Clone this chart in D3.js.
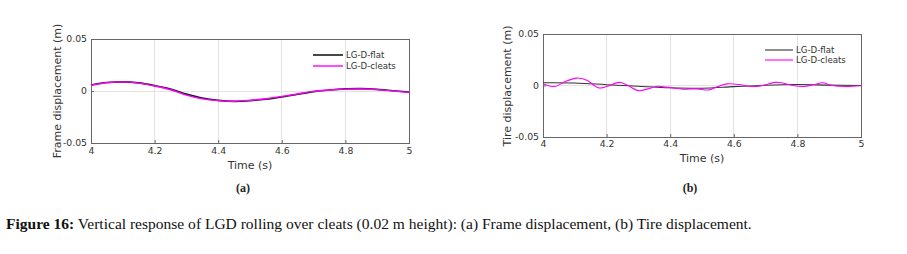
<!DOCTYPE html>
<html><head><meta charset="utf-8">
<script src="https://cdn.jsdelivr.net/npm/d3@7"></script>
<style>body{margin:0;background:#fff}svg{display:block}</style>
</head><body>
<svg id="c" width="907" height="254"></svg>
<script>
// ---- data ----
const xTicks = [4, 4.2, 4.4, 4.6, 4.8, 5];
const yTicks = [-0.05, 0, 0.05];
const yTickLabels = ["-0.05", "0", "0.05"];
const seriesNames = ["LG-D-flat", "LG-D-cleats"];

const frameTime   = [4, 4.05, 4.1, 4.15, 4.2, 4.25, 4.3, 4.35, 4.4, 4.45, 4.5, 4.55, 4.6, 4.65, 4.7, 4.75, 4.8, 4.85, 4.9, 4.95, 5];
const frameFlat   = [0.0058, 0.0081, 0.0088, 0.0078, 0.0052, 0.0019, -0.0030, -0.0068, -0.0090, -0.0100, -0.0094, -0.0080, -0.0058, -0.0032, -0.0006, 0.0010, 0.0020, 0.0023, 0.0016, 0.0003, -0.0010];
const frameCleats = [0.0055, 0.0080, 0.0088, 0.0076, 0.0048, 0.0012, -0.0040, -0.0076, -0.0093, -0.0098, -0.0089, -0.0074, -0.0052, -0.0028, -0.0004, 0.0010, 0.0018, 0.0019, 0.0013, 0.0000, -0.0014];

const tireFlatTime = [4, 4.1, 4.2, 4.3, 4.4, 4.5, 4.6, 4.7, 4.8, 4.9, 5];
const tireFlat     = [0.0026, 0.0024, 0.0008, -0.0008, -0.0022, -0.0026, -0.0011, 0.0003, 0.0009, 0.0004, 0.0000];
const tireCleatsTime = [4, 4.038, 4.064, 4.106, 4.138, 4.175, 4.2, 4.24, 4.263, 4.3, 4.33, 4.36, 4.39, 4.44, 4.485, 4.52, 4.55, 4.58, 4.615, 4.66, 4.69, 4.73, 4.75, 4.79, 4.82, 4.85, 4.88, 4.905, 4.95, 5];
const tireCleats     = [0.0018, -0.0010, 0.0030, 0.0072, 0.0050, -0.0023, -0.0010, 0.0030, 0.0007, -0.0050, -0.0033, -0.0007, -0.0016, -0.0036, -0.0033, -0.0043, -0.0010, 0.0016, 0.0010, -0.0010, 0.0000, 0.0030, 0.0026, -0.0003, -0.0010, 0.0007, 0.0026, 0.0003, -0.0010, -0.0003];

const svg = d3.select("#c");
const axFont = "DejaVu Sans, sans-serif";

function panel(cfg) {
  const x = d3.scaleLinear().domain([4, 5]).range([cfg.x0, cfg.x1]);
  const y = d3.scaleLinear().domain([-0.05, 0.05]).range([cfg.y0, cfg.y1]);
  const g = svg.append("g");
  // grid
  g.selectAll(".gx").data(xTicks.slice(1, -1)).join("line")
    .attr("x1", d => x(d)).attr("x2", d => x(d)).attr("y1", cfg.y0).attr("y2", cfg.y1)
    .attr("stroke", "#e3e3e3").attr("stroke-width", 1).attr("shape-rendering", "crispEdges");
  g.append("line").attr("x1", cfg.x0).attr("x2", cfg.x1).attr("y1", y(0)).attr("y2", y(0))
    .attr("stroke", "#e3e3e3").attr("stroke-width", 1).attr("shape-rendering", "crispEdges");
  // axes (ticks inward)
  const xa = g.append("g").attr("transform", `translate(0,${cfg.y0})`)
    .call(d3.axisBottom(x).tickValues(xTicks).tickSize(-3).tickPadding(cfg.xPad).tickFormat(d3.format("")));
  const ya = g.append("g").attr("transform", `translate(${cfg.x0},0)`)
    .call(d3.axisLeft(y).tickValues(yTicks).tickSize(-3).tickPadding(4).tickFormat((d, i) => yTickLabels[i]));
  [xa, ya].forEach(a => {
    a.select(".domain").remove();
    a.selectAll("line").attr("stroke", "#666");
    a.selectAll("text").attr("fill", "#333").style("font-family", axFont).style("font-size", "9.3px");
  });
  // frame box
  g.append("rect").attr("x", cfg.x0).attr("y", cfg.y1).attr("width", cfg.x1 - cfg.x0).attr("height", cfg.y0 - cfg.y1)
    .attr("fill", "none").attr("stroke", "#666").attr("stroke-width", 1).attr("shape-rendering", "crispEdges");
  // lines
  const line = d3.line().x(d => x(d[0])).y(d => y(d[1])).curve(d3.curveCatmullRom.alpha(0.5));
  cfg.series.forEach(s => {
    g.append("path").datum(s.t.map((t, i) => [t, s.v[i]])).attr("d", line)
      .attr("fill", "none").attr("stroke", s.color).attr("stroke-width", s.w);
  });
  // legend
  cfg.series.forEach((s, i) => {
    const ly = cfg.legY + i * cfg.legDy;
    g.append("line").attr("x1", cfg.legX).attr("x2", cfg.legX + cfg.legW).attr("y1", ly).attr("y2", ly)
      .attr("stroke", s.color).attr("stroke-width", s.w);
    g.append("text").attr("x", cfg.legX + cfg.legW + 3).attr("y", ly).attr("dy", "0.35em")
      .style("font-family", axFont).style("font-size", "8.6px").attr("fill", "#333").text(seriesNames[i]);
  });
  // axis labels
  g.append("text").attr("x", (cfg.x0 + cfg.x1) / 2).attr("y", cfg.xLabY).attr("text-anchor", "middle")
    .style("font-family", axFont).style("font-size", "11px").attr("fill", "#333").text("Time (s)");
  g.append("text").attr("transform", `translate(${cfg.yLabX},${cfg.yLabCy}) rotate(-90)`).attr("text-anchor", "middle")
    .style("font-family", axFont).style("font-size", "11px").attr("fill", "#333").text(cfg.yLabel);
}

panel({
  x0: 91, x1: 409, y0: 143, y1: 39, xPad: 4, xLabY: 169, yLabX: 61, yLabCy: 91,
  yLabel: "Frame displacement (m)",
  legX: 313, legY: 55, legDy: 11, legW: 30,
  series: [
    { t: frameTime, v: frameFlat, color: "#1a1a1a", w: 1.6 },
    { t: frameTime, v: frameCleats, color: "#ff00ff", w: 1.4 }
  ]
});
panel({
  x0: 543, x1: 861, y0: 137, y1: 34, xPad: 3, xLabY: 162, yLabX: 511, yLabCy: 86,
  yLabel: "Tire displacement (m)",
  legX: 765, legY: 50, legDy: 10, legW: 28,
  series: [
    { t: tireFlatTime, v: tireFlat, color: "#333", w: 1.1 },
    { t: tireCleatsTime, v: tireCleats, color: "#ff00ff", w: 1.1 }
  ]
});

// sub-captions
const serif = "Liberation Serif, Times New Roman, serif";
[["(a)", 243], ["(b)", 690]].forEach(([t, cx]) => {
  svg.append("text").attr("x", cx).attr("y", 192).attr("text-anchor", "middle")
    .style("font-family", serif).style("font-weight", "bold").style("font-size", "12px").attr("fill", "#222").text(t);
});
// figure caption
const cap = svg.append("text").attr("x", 6).attr("y", 229)
  .style("font-family", serif).style("font-size", "15px").attr("fill", "#111");
cap.append("tspan").style("font-weight", "bold").text("Figure 16:");
cap.append("tspan").text(" Vertical response of LGD rolling over cleats (0.02 m height): (a) Frame displacement, (b) Tire displacement.");
const w = cap.node().getComputedTextLength();
cap.style("font-size", (15 * 746 / w).toFixed(2) + "px");
</script>
</body></html>
